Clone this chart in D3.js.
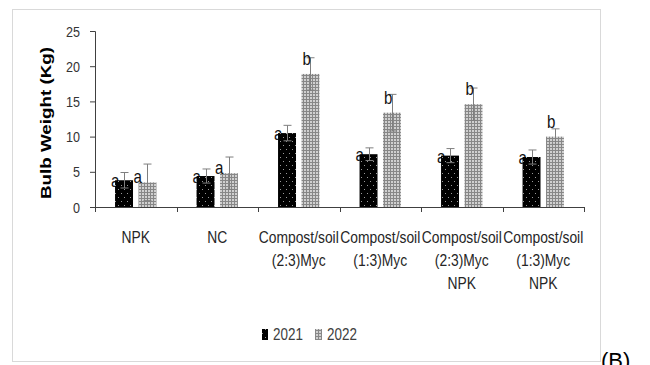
<!DOCTYPE html>
<html>
<head>
<meta charset="utf-8">
<script src="https://cdn.jsdelivr.net/npm/d3@7"></script>
<style>
  body { margin: 0; background: #fff; }
  svg { display: block; }
  text { font-family: "Liberation Sans", Arial, sans-serif; }
</style>
</head>
<body>
<svg id="chart" width="650" height="365"></svg>
<script>
// data
const categories = ["NPK", "NC", "Compost/soil\n(2:3)Myc", "Compost/soil\n(1:3)Myc",
                    "Compost/soil\n(2:3)Myc\nNPK", "Compost/soil\n(1:3)Myc\nNPK"];
const years = ["2021", "2022"];
const values2021 = [3.8, 4.4, 10.5, 7.5, 7.3, 7.1];
const values2022 = [3.5, 4.8, 18.9, 13.4, 14.6, 10.0];
const err2021 = [1.1, 1.0, 1.1, 0.9, 1.0, 1.0];
const err2022 = [2.6, 2.3, 2.3, 2.6, 2.3, 1.1];
const letters2021 = ["a", "a", "a", "a", "a", "a"];
const letters2022 = ["a", "a", "b", "b", "b", "b"];
const yTicks = [0, 5, 10, 15, 20, 25];

var svg = d3.select("#chart");
var NARROW = 0.84; // squeeze Liberation Sans to look like the narrow original

// patterns
var defs = svg.append("defs");
var p1 = defs.append("pattern").attr("id", "pat2021")
    .attr("patternUnits", "userSpaceOnUse").attr("width", 6).attr("height", 8);
p1.append("rect").attr("width", 6).attr("height", 8).attr("fill", "#000");
p1.append("rect").attr("x", 1).attr("y", 1).attr("width", 1).attr("height", 1).attr("fill", "#9a9a9a");
p1.append("rect").attr("x", 4).attr("y", 5).attr("width", 1).attr("height", 1).attr("fill", "#9a9a9a");

var p2 = defs.append("pattern").attr("id", "pat2022")
    .attr("patternUnits", "userSpaceOnUse").attr("width", 3).attr("height", 3);
p2.append("rect").attr("width", 3).attr("height", 3).attr("fill", "#d0d0d0");
p2.append("rect").attr("width", 3).attr("height", 1).attr("fill", "#878787");
p2.append("rect").attr("width", 1).attr("height", 3).attr("fill", "#878787");

var fills = ["url(#pat2021)", "url(#pat2022)"];

// chart frame
svg.append("rect")
    .attr("x", 12.5).attr("y", 9.5).attr("width", 588).attr("height", 352)
    .attr("fill", "none").attr("stroke", "#d9d9d9");

var plotLeft = 95, plotRight = 584, plotTop = 31, plotBottom = 207;

var x0 = d3.scaleBand().domain(categories).range([plotLeft, plotRight]).padding(0);
var x1 = d3.scaleBand().domain(years).range([0, x0.bandwidth()])
    .paddingInner(0.234).paddingOuter(0.855);
var y = d3.scaleLinear().domain([0, 25]).range([plotBottom, plotTop]);

var series = [
  { year: years[0], values: values2021, errs: err2021, letters: letters2021 },
  { year: years[1], values: values2022, errs: err2022, letters: letters2022 }
];

var rows = [];
series.forEach(function(s, si) {
  categories.forEach(function(c, i) {
    rows.push({ cat: c, year: s.year, si: si, v: s.values[i], e: s.errs[i], l: s.letters[i] });
  });
});

// y axis
var yAxis = svg.append("g")
    .attr("transform", "translate(" + plotLeft + ",0)")
    .call(d3.axisLeft(y).tickValues(yTicks).tickSize(5).tickPadding(9));
yAxis.select(".domain").attr("stroke", "#404040");
yAxis.selectAll(".tick line").attr("stroke", "#404040");
yAxis.selectAll(".tick text")
    .attr("font-family", "\"Liberation Sans\", Arial, sans-serif")
    .attr("font-size", 15).attr("fill", "#333")
    .attr("x", null).attr("dy", null)
    .attr("transform", "translate(-15,5) scale(" + NARROW + ",1)");

svg.append("text")
    .attr("transform", "translate(51,123) rotate(-90)")
    .attr("text-anchor", "middle")
    .attr("font-weight", "bold")
    .attr("font-size", 15)
    .attr("textLength", 152)
    .attr("lengthAdjust", "spacingAndGlyphs")
    .attr("fill", "#000")
    .text("Bulb Weight (Kg)");

// 2021 letters sit partly behind the black bars
var letterPos = function(d) {
  var bx = x0(d.cat) + x1(d.year), lx, ly;
  if (d.si === 0) { lx = bx - 4; ly = y(d.v) + 7; }
  else if (d.l === "b") { lx = bx + 1; ly = y(d.v) - 9; }
  else { lx = bx - 5; ly = y(d.v) + 1; }
  return "translate(" + lx + "," + ly + ") scale(" + NARROW + ",1)";
};

svg.append("g").selectAll("text")
    .data(rows.filter(function(d) { return d.si === 0; }))
    .enter().append("text")
    .attr("transform", letterPos)
    .attr("font-size", 18)
    .attr("fill", "#111")
    .text(function(d) { return d.l; });

// bars
svg.append("g").selectAll("rect")
    .data(rows)
    .enter().append("rect")
    .attr("x", function(d) { return x0(d.cat) + x1(d.year); })
    .attr("y", function(d) { return y(d.v); })
    .attr("width", x1.bandwidth())
    .attr("height", function(d) { return y(0) - y(d.v); })
    .attr("fill", function(d) { return fills[d.si]; });

// error bars
var eb = svg.append("g").attr("stroke", "#7f7f7f").attr("stroke-width", 1);
rows.forEach(function(d) {
  var cx = Math.round(x0(d.cat) + x1(d.year) + x1.bandwidth() / 2) + 0.5;
  var yt = y(d.v + d.e), yb = y(Math.max(0, d.v - d.e));
  eb.append("line").attr("x1", cx).attr("x2", cx).attr("y1", yt).attr("y2", yb);
  eb.append("line").attr("x1", cx - 4).attr("x2", cx + 4).attr("y1", yt).attr("y2", yt);
  eb.append("line").attr("x1", cx - 4).attr("x2", cx + 4).attr("y1", yb).attr("y2", yb);
});

// 2022 letters
svg.append("g").selectAll("text")
    .data(rows.filter(function(d) { return d.si === 1; }))
    .enter().append("text")
    .attr("transform", letterPos)
    .attr("font-size", 18)
    .attr("fill", "#111")
    .text(function(d) { return d.l; });

// x axis
var xAxis = svg.append("g").attr("transform", "translate(0," + plotBottom + ")");
xAxis.append("line").attr("x1", plotLeft).attr("x2", plotRight).attr("y1", 0.5).attr("y2", 0.5)
    .attr("stroke", "#404040");
var bounds = categories.map(function(c) { return x0(c); }).concat([plotRight]);
xAxis.selectAll(".xt").data(bounds).enter().append("line")
    .attr("x1", function(d) { return Math.round(d) + 0.5; })
    .attr("x2", function(d) { return Math.round(d) + 0.5; })
    .attr("y1", 0).attr("y2", 5).attr("stroke", "#404040");

var labels = svg.append("g").selectAll("text")
    .data(categories)
    .enter().append("text")
    .attr("transform", function(d) {
      return "translate(" + (x0(d) + x0.bandwidth() / 2) + ",243) scale(" + NARROW + ",1)";
    })
    .attr("text-anchor", "middle")
    .attr("font-size", 16.5)
    .attr("fill", "#262626");
labels.each(function(d) {
  var t = d3.select(this);
  d.split("\n").forEach(function(line, i) {
    t.append("tspan").attr("x", 0).attr("dy", i === 0 ? 0 : 23).text(line);
  });
});

// legend
var legend = svg.append("g");
var legX = [262, 315];
years.forEach(function(yr, i) {
  legend.append("rect").attr("x", legX[i]).attr("y", 329)
      .attr("width", i === 0 ? 6 : 7).attr("height", 11)
      .attr("fill", fills[i]);
  legend.append("text")
      .attr("transform", "translate(" + (legX[i] + (i === 0 ? 11 : 12)) + ",340) scale(" + NARROW + ",1)")
      .attr("font-size", 16).attr("fill", "#404040").text(yr);
});

// panel tag
svg.append("text")
    .attr("x", 601).attr("y", 368)
    .attr("font-family", "\"Liberation Serif\", \"Times New Roman\", serif")
    .attr("font-size", 22).attr("fill", "#000")
    .text("(B)");
</script>
</body>
</html>
